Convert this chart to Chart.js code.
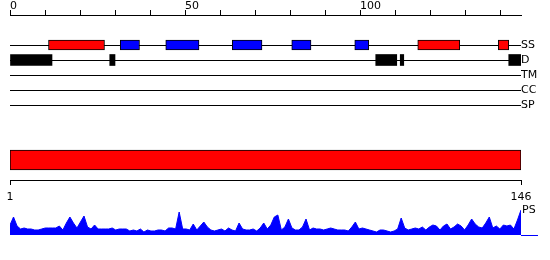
<!DOCTYPE html>
<html>
<head>
<meta charset="utf-8">
<script src="https://cdn.jsdelivr.net/npm/chart.js@4.4.1/dist/chart.umd.min.js"></script>
<style>
  body { margin: 0; background: #fff; }
  #wrap { position: relative; width: 550px; height: 260px; }
  canvas { position: absolute; left: 0; }
</style>
</head>
<body>
<div id="wrap">
  <canvas id="tracks" width="550" height="130" style="top:0px"></canvas>
  <canvas id="domain" width="550" height="60" style="top:140px"></canvas>
  <canvas id="ps" width="550" height="40" style="top:200px"></canvas>
</div>
<script>
const seqLength = 146;
const trackNames = ['SS', 'D', 'TM', 'CC', 'SP'];
const topTickLabels = [0, 50, 100];
const bottomTickLabels = [1, 146];

// feature ranges, in sequence positions
const helixRanges = [[11, 27], [116.5, 128.5], [139.5, 142.5]];
const strandRanges = [[31.5, 37], [44.5, 54], [63.5, 72], [80.5, 86], [98.5, 102.5]];
const disorderRanges = [[0, 12], [28.5, 30], [104.5, 110.5], [111.5, 112.5], [142.5, 146]];
const domainRanges = [[1, 146]];

// PS profile, one value per residue
const psScores = [
  10, 18, 9, 6, 7, 6, 6, 5, 5, 6,
  7, 7, 7, 7, 9, 5, 12, 18, 12, 7,
  13, 19, 8, 6, 10, 6, 6, 6, 6, 7,
  5, 6, 6, 6, 4, 5, 4, 6, 3, 5,
  4, 4, 5, 5, 4, 7, 7, 6, 23, 6,
  6, 5, 11, 5, 9, 13, 8, 5, 4, 5,
  6, 4, 7, 5, 4, 12, 6, 5, 5, 6,
  4, 7, 12, 6, 10, 18, 20, 5, 8, 16,
  7, 5, 5, 8, 16, 5, 7, 6, 6, 5,
  6, 7, 6, 5, 5, 5, 4, 8, 13, 6,
  7, 6, 5, 4, 3, 5, 5, 4, 3, 4,
  6, 17, 7, 5, 6, 7, 6, 8, 5, 8,
  10, 9, 5, 9, 11, 6, 8, 11, 9, 5,
  10, 16, 11, 8, 7, 12, 18, 7, 9, 6,
  10, 9, 10, 6, 15, 25
];
const psLabelValue = 25;

Chart.defaults.font.family = 'DejaVu Sans';
Chart.defaults.font.size = 11;
Chart.defaults.color = '#000';

const noPlugins = { legend: { display: false }, tooltip: { enabled: false } };

function rangeBars(ranges, row) {
  return ranges.map(r => ({ x: r, y: row }));
}

// tracks: top ruler + SS / D / TM / CC / SP rows
new Chart(document.getElementById('tracks'), {
  type: 'bar',
  data: {
    datasets: [
      { data: rangeBars(helixRanges, 0), backgroundColor: '#ff0000', borderColor: '#000', borderWidth: 1, borderSkipped: false, barThickness: 10 },
      { data: rangeBars(strandRanges, 0), backgroundColor: '#0000ff', borderColor: '#000', borderWidth: 1, borderSkipped: false, barThickness: 10 },
      { data: rangeBars(disorderRanges, 1), backgroundColor: '#000', borderWidth: 0, barThickness: 11 },
    ]
  },
  options: {
    indexAxis: 'y',
    grouped: false,
    responsive: false,
    animation: false,
    layout: { padding: { left: 10, top: 0, right: 0, bottom: 10 } },
    plugins: noPlugins,
    scales: {
      x: {
        type: 'linear', position: 'top', min: 0, max: seqLength,
        afterFit: s => { s.height = 15; },
        ticks: {
          stepSize: 10, includeBounds: false, autoSkip: false, maxRotation: 0,
          align: 'start', padding: -3,
          callback: v => topTickLabels.includes(v) ? String(v) : ''
        },
        grid: { drawOnChartArea: false, tickLength: 5, color: '#000' },
        border: { color: '#000' }
      },
      y: {
        type: 'linear', position: 'right', reverse: true, min: -2, max: 5, offset: false,
        afterFit: s => { s.width = 29; },
        afterBuildTicks: s => { s.ticks = trackNames.map((_, i) => ({ value: i })); },
        ticks: { padding: 0, autoSkip: false, callback: v => trackNames[v] || '' },
        grid: { drawTicks: false, offset: false, color: '#000' },
        border: { display: false }
      }
    }
  }
});

// domain bar + residue ruler
new Chart(document.getElementById('domain'), {
  type: 'bar',
  data: {
    datasets: [
      { data: rangeBars(domainRanges, 0), backgroundColor: '#ff0000', borderColor: '#000', borderWidth: 1, borderSkipped: false, barThickness: 20 }
    ]
  },
  options: {
    indexAxis: 'y',
    responsive: false,
    animation: false,
    layout: { padding: { left: 10, right: 29, top: 0, bottom: 0 } },
    plugins: noPlugins,
    scales: {
      x: {
        type: 'linear', min: 1, max: seqLength,
        afterBuildTicks: s => { s.ticks = bottomTickLabels.map(v => ({ value: v })); },
        afterFit: s => { s.height = 20; },
        ticks: { padding: 6, autoSkip: false, maxRotation: 0 },
        grid: { drawOnChartArea: false, tickLength: 5, color: '#000' },
        border: { color: '#000' }
      },
      y: { type: 'linear', display: false, min: -1, max: 1, offset: false }
    }
  }
});

// PS profile
new Chart(document.getElementById('ps'), {
  type: 'line',
  data: {
    datasets: [{
      data: psScores.map((v, i) => ({ x: i + 1, y: v })),
      fill: 'origin',
      backgroundColor: '#0000ff',
      borderColor: '#0000ff',
      borderWidth: 1,
      pointRadius: 0,
      tension: 0
    }]
  },
  options: {
    responsive: false,
    animation: false,
    layout: { padding: { left: 10, right: 0, top: 0, bottom: 5 } },
    plugins: noPlugins,
    scales: {
      x: { type: 'linear', min: 1, max: seqLength, display: false },
      y: {
        type: 'linear', position: 'right', min: 0, max: 35,
        afterFit: s => { s.width = 29; },
        afterBuildTicks: s => { s.ticks = [{ value: 0 }, { value: psLabelValue }]; },
        ticks: { padding: -16, callback: v => v ? 'PS' : '' },
        grid: { drawOnChartArea: false, tickLength: 17, color: c => (c.tick && c.tick.value === 0) ? '#0000ff' : 'transparent' },
        border: { display: false }
      }
    }
  }
});
</script>
</body>
</html>
